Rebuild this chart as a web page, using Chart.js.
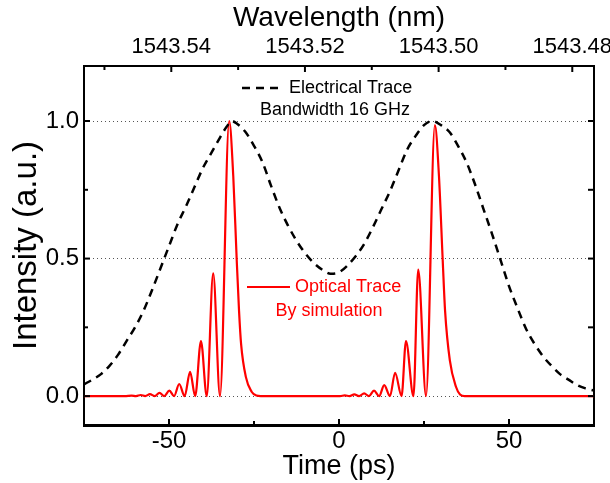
<!DOCTYPE html>
<html>
<head>
<meta charset="utf-8">
<title>Electrical and optical trace</title>
<script src="https://cdn.jsdelivr.net/npm/chart.js@4.4.1/dist/chart.umd.min.js"></script>
<style>
  html, body { margin: 0; padding: 0; background: #fff; }
  #wrap { width: 610px; height: 483px; position: relative; }
</style>
</head>
<body>
<div id="wrap"><canvas id="traceChart"></canvas></div>
<script>
// Electrical trace (16 GHz bandwidth), time in ps
const elecTime = [-75, -72.5, -70, -67.5, -65, -62.5, -60, -57.5, -55, -52.5, -50, -47.5, -45, -42.5, -40, -37.5, -35,
  -33, -31.5, -30,
  -27.5, -25, -22.5, -20, -17.5, -15, -12.5, -10, -7.5, -5, -2.5, 0, 2.5, 5, 7.5, 10, 12.5, 15, 17.5, 20,
  22.5, 25, 27.5, 30, 32.5, 35, 37.5, 40, 42.5, 45, 47.5, 50, 52.5, 55, 57.5, 60, 62.5, 65, 67.5, 70, 72.5, 75];
const elecValue = [0.043, 0.06, 0.08, 0.11, 0.15, 0.20, 0.25, 0.31, 0.385, 0.465, 0.545, 0.625, 0.69, 0.76, 0.83, 0.885, 0.94,
  0.98, 1.0, 0.99,
  0.96, 0.91, 0.85, 0.765, 0.685, 0.62, 0.565, 0.52, 0.485, 0.46, 0.445, 0.45, 0.475, 0.51, 0.555, 0.615, 0.68, 0.745, 0.82, 0.895,
  0.945, 0.985, 1.0, 0.985, 0.96, 0.91, 0.85, 0.77, 0.68, 0.59, 0.495, 0.40, 0.32, 0.245, 0.19, 0.145, 0.11, 0.08, 0.06, 0.04, 0.028, 0.02];

// Optical trace by simulation (peaks and valleys of the ripples)
const optTime = [-75, -63, -61.0, -59.7, -58.3, -57.0, -55.6, -54.2, -52.8, -51.4, -49.9, -48.5, -47.0, -45.4, -43.8, -42.3,
  -40.6, -38.9, -37.0, -35.0, -32.3, -31.1, -30.1, -29.4, -28.8, -27.4, -25.7, -24.3, -23,
  0.3, 1.7, 3.1, 4.5, 5.9, 7.4, 8.8, 10.3, 11.8, 13.3, 15.0, 16.5, 18.4, 19.7, 21.9, 23.3, 25.6,
  28.2, 29.4, 30.5, 31.2, 32.6, 34.4, 35.6, 37, 75];
const optValue = [0, 0, 0.002, 0, 0.004, 0, 0.007, 0, 0.012, 0, 0.02, 0, 0.044, 0, 0.088, 0,
  0.20, 0, 0.446, 0, 1.0, 0.8, 0.5, 0.31, 0.19, 0.07, 0.016, 0.002, 0,
  0, 0.003, 0, 0.006, 0, 0.01, 0, 0.02, 0, 0.04, 0, 0.085, 0, 0.2, 0, 0.46, 0,
  0.985, 0.8, 0.495, 0.31, 0.13, 0.034, 0.006, 0, 0];

const timeTicks = [-50, -25, 0, 25, 50];
const timeLabels = [-50, 0, 50];
const intensityTicks = [0, 0.25, 0.5, 0.75, 1.0];
const intensityLabels = [0, 0.5, 1.0];
const wavelengthTicks = [1543.55, 1543.54, 1543.53, 1543.52, 1543.51, 1543.50, 1543.49, 1543.48];
const wavelengthLabels = [1543.54, 1543.52, 1543.50, 1543.48];
const wavelengthRange = [1543.47675, 1543.55306];

const FONT = '"Liberation Sans", Arial, sans-serif';

function isLabeled(list, v) {
  return list.some((l) => Math.abs(l - v) < 1e-6);
}

function toPoints(xs, ys) {
  return xs.map((x, i) => ({ x: x, y: ys[i] }));
}

// Tick marks point inward on all four sides
const innerTicks = {
  id: 'innerTicks',
  afterDraw(chart) {
    const { ctx, chartArea: a } = chart;
    ctx.save();
    ctx.strokeStyle = '#000';
    ctx.lineWidth = 2;
    const mark = (id, labels, side) => {
      const s = chart.scales[id];
      s.ticks.forEach((t) => {
        const p = s.getPixelForValue(t.value);
        const len = isLabeled(labels, t.value) ? 6 : 4;
        ctx.beginPath();
        if (side === 'bottom') { ctx.moveTo(p, a.bottom); ctx.lineTo(p, a.bottom - len); }
        if (side === 'top') { ctx.moveTo(p, a.top); ctx.lineTo(p, a.top + len); }
        if (side === 'left') { ctx.moveTo(a.left, p); ctx.lineTo(a.left + len, p); }
        if (side === 'right') { ctx.moveTo(a.right, p); ctx.lineTo(a.right - len, p); }
        ctx.stroke();
      });
    };
    mark('x', timeLabels, 'bottom');
    mark('x2', wavelengthLabels, 'top');
    mark('y', intensityLabels, 'left');
    mark('y2', intensityTicks, 'right');
    ctx.restore();
  }
};

// In-plot legend notes
const traceNotes = {
  id: 'traceNotes',
  afterDatasetsDraw(chart) {
    const ctx = chart.ctx;
    ctx.save();
    ctx.font = '18px ' + FONT;
    ctx.textBaseline = 'middle';

    ctx.strokeStyle = '#000';
    ctx.lineWidth = 2.5;
    ctx.setLineDash([8, 6]);
    ctx.beginPath(); ctx.moveTo(242, 88); ctx.lineTo(280, 88); ctx.stroke();
    ctx.setLineDash([]);
    ctx.fillStyle = '#000';
    ctx.textAlign = 'left';
    ctx.fillText('Electrical Trace', 289, 88);
    ctx.textAlign = 'center';
    ctx.fillText('Bandwidth 16 GHz', 335, 110);

    ctx.strokeStyle = '#ff0000';
    ctx.lineWidth = 2;
    ctx.beginPath(); ctx.moveTo(247, 287); ctx.lineTo(290, 287); ctx.stroke();
    ctx.fillStyle = '#ff0000';
    ctx.textAlign = 'left';
    ctx.fillText('Optical Trace', 295, 287);
    ctx.textAlign = 'center';
    ctx.fillText('By simulation', 329, 311);
    ctx.restore();
  }
};

Chart.defaults.font.family = FONT;
Chart.defaults.color = '#000';

const ctx = document.getElementById('traceChart').getContext('2d');
new Chart(ctx, {
  type: 'line',
  data: {
    datasets: [
      {
        label: 'Electrical Trace',
        data: toPoints(elecTime, elecValue),
        borderColor: '#000',
        borderWidth: 2.5,
        borderDash: [8, 6],
        pointRadius: 0,
        cubicInterpolationMode: 'monotone',
        fill: false,
        xAxisID: 'x',
        yAxisID: 'y'
      },
      {
        label: 'Optical Trace',
        data: toPoints(optTime, optValue),
        borderColor: '#ff0000',
        borderWidth: 2.2,
        pointRadius: 0,
        cubicInterpolationMode: 'monotone',
        fill: false,
        xAxisID: 'x',
        yAxisID: 'y'
      }
    ]
  },
  options: {
    responsive: true,
    maintainAspectRatio: false,
    animation: false,
    layout: { padding: 0 },
    plugins: {
      legend: { display: false },
      tooltip: { enabled: false }
    },
    scales: {
      x: {
        type: 'linear',
        position: 'bottom',
        min: -75,
        max: 75,
        afterBuildTicks: (s) => { s.ticks = timeTicks.map((v) => ({ value: v })); },
        afterFit: (s) => { s.height = 58; s.paddingLeft = 0; s.paddingRight = 0; },
        ticks: {
          autoSkip: false, maxRotation: 0, minRotation: 0, padding: 2,
          font: { size: 24 }, color: '#000',
          callback: (v) => (isLabeled(timeLabels, v) ? String(v) : '')
        },
        grid: { display: false, drawTicks: false },
        border: { display: true, color: '#000', width: 3 },
        title: { display: true, text: 'Time (ps)', font: { size: 27 }, color: '#000', padding: { top: 0, bottom: 0 } }
      },
      x2: {
        type: 'linear',
        axis: 'x',
        position: 'top',
        reverse: true,
        min: wavelengthRange[0],
        max: wavelengthRange[1],
        afterBuildTicks: (s) => { s.ticks = wavelengthTicks.map((v) => ({ value: v })); },
        afterFit: (s) => { s.height = 66; s.paddingLeft = 0; s.paddingRight = 0; },
        ticks: {
          autoSkip: false, maxRotation: 0, minRotation: 0, padding: 6,
          font: { size: 22 }, color: '#000',
          callback: (v) => (isLabeled(wavelengthLabels, v) ? v.toFixed(2) : '')
        },
        grid: { display: false, drawTicks: false },
        border: { display: true, color: '#000', width: 2 },
        title: { display: true, text: 'Wavelength (nm)', font: { size: 28 }, color: '#000', padding: { top: 1, bottom: 0 } }
      },
      y: {
        type: 'linear',
        position: 'left',
        min: -0.105,
        max: 1.2,
        afterBuildTicks: (s) => { s.ticks = intensityTicks.map((v) => ({ value: v })); },
        afterFit: (s) => { s.width = 84; s.paddingTop = 0; s.paddingBottom = 0; },
        ticks: {
          autoSkip: false, padding: 5,
          font: { size: 24 }, color: '#000',
          callback: (v) => (isLabeled(intensityLabels, v) ? v.toFixed(1) : '')
        },
        grid: {
          display: true,
          drawTicks: false,
          lineWidth: 1,
          color: (c) => (c.tick && isLabeled(intensityLabels, c.tick.value) ? '#555' : 'rgba(0,0,0,0)')
        },
        border: { display: true, color: '#000', width: 2, dash: [1, 3] },
        title: { display: true, text: 'Intensity (a.u.)', font: { size: 33 }, color: '#000', padding: { top: 7, bottom: 0 } }
      },
      y2: {
        type: 'linear',
        axis: 'y',
        position: 'right',
        min: -0.105,
        max: 1.2,
        afterBuildTicks: (s) => { s.ticks = intensityTicks.map((v) => ({ value: v })); },
        afterFit: (s) => { s.width = 16; s.paddingTop = 0; s.paddingBottom = 0; },
        ticks: { display: false },
        grid: { display: false, drawTicks: false },
        border: { display: true, color: '#000', width: 2 }
      }
    }
  },
  plugins: [innerTicks, traceNotes]
});
</script>
</body>
</html>
